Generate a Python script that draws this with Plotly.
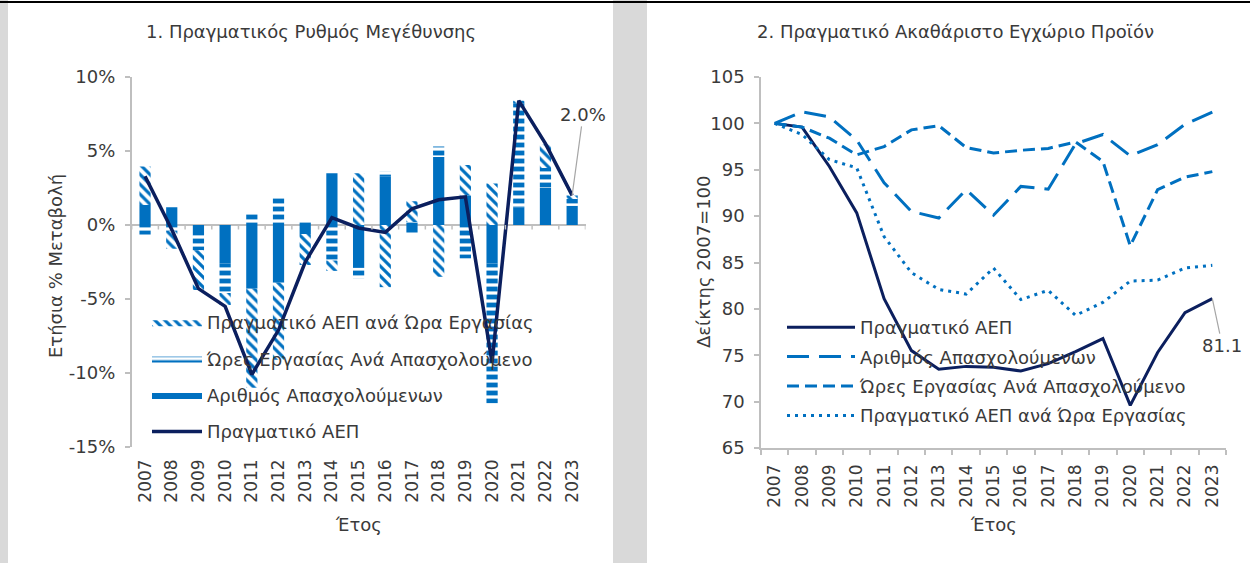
import plotly.graph_objects as go

# ---- data ----
years = list(range(2007, 2024))
year_labels = [str(y) for y in years]

# left panel: contributions to annual real GDP growth (%)
emp_contrib = [1.35, 1.2, -0.7, -2.6, -4.3, -3.9, -0.6, 3.5, -2.9, 3.3, -0.5, 4.6, 2.0, -2.6, 1.2, 2.5, 1.3]
hours_contrib = [-0.65, -0.4, -1.0, -2.0, 0.8, 1.9, 0.2, -2.4, -0.7, 0.3, 0.2, 0.7, -2.25, -9.45, 7.0, 1.35, 0.45]
gdp_hour_contrib = [2.6, -1.2, -2.7, -0.8, -6.7, -5.2, -2.1, -0.7, 3.5, -4.2, 1.4, -3.5, 2.05, 2.8, 0.2, 1.6, 0.25]
gdp_growth = [3.3, -0.3, -4.3, -5.5, -10.1, -7.1, -2.5, 0.5, -0.2, -0.5, 1.1, 1.7, 1.9, -9.3, 8.4, 5.5, 2.0]

# right panel: indices 2007=100
gdp_idx = [100, 99.6, 95.35, 90.35, 81.1, 75.5, 73.5, 73.8, 73.7, 73.3, 74.1, 75.4, 76.8, 69.6, 75.3, 79.6, 81.1]
emp_idx = [100, 101.25, 100.7, 98.2, 93.6, 90.5, 89.8, 92.85, 90.1, 93.2, 92.9, 97.8, 98.8, 96.5, 97.7, 99.9, 101.2]
hours_idx = [100, 99.6, 98.4, 96.6, 97.5, 99.3, 99.75, 97.4, 96.8, 97.1, 97.3, 98.0, 95.9, 86.8, 92.85, 94.2, 94.8]
gdp_hour_idx = [100, 98.8, 96.1, 95.2, 87.8, 83.9, 82.1, 81.6, 84.4, 81.0, 82.0, 79.3, 80.7, 83.0, 83.1, 84.4, 84.7]

left_yticks = [-15, -10, -5, 0, 5, 10]
left_yticktext = ["-15%", "-10%", "-5%", "0%", "5%", "10%"]

NAMES = {
    'gdp': 'Πραγματικό ΑΕΠ',
    'emp': 'Αριθμός Απασχολούμενων',
    'hours': 'Ώρες Εργασίας Ανά Απασχολούμενο',
    'gdp_hour': 'Πραγματικό ΑΕΠ ανά Ώρα Εργασίας',
}

COLORS = {
    'blue': '#0070C0',
    'navy': '#0B1F5E',
    'axis': '#BFBFBF',
    'text': '#3A3A3A',
    'frame': '#D9D9D9',
}

FONT = "DejaVu Sans"
FS = 18
W, H = 1250, 563

HOURS_PATTERN = dict(shape='-', fgcolor=COLORS['blue'], bgcolor='white', size=8, solidity=0.6)
DIAG_PATTERN = dict(shape='\\', fgcolor=COLORS['blue'], bgcolor='white', size=7, solidity=0.45)


def px_x(x):
    return x / W


def px_y(y):
    return 1 - y / H


fig = go.Figure()

# ---- left panel: stacked contributions + GDP line ----
fig.add_trace(go.Bar(
    x=years, y=emp_contrib, name=NAMES['emp'], showlegend=False,
    marker=dict(color=COLORS['blue'], line=dict(width=0)),
    xaxis='x', yaxis='y',
))
fig.add_trace(go.Bar(
    x=years, y=hours_contrib, name=NAMES['hours'], showlegend=False,
    marker=dict(color='white', line=dict(width=0), pattern=HOURS_PATTERN),
    xaxis='x', yaxis='y',
))
fig.add_trace(go.Bar(
    x=years, y=gdp_hour_contrib, name=NAMES['gdp_hour'], showlegend=False,
    marker=dict(color='white', line=dict(width=0), pattern=DIAG_PATTERN),
    xaxis='x', yaxis='y',
))
fig.add_trace(go.Scatter(
    x=years, y=gdp_growth, name=NAMES['gdp'], mode='lines',
    line=dict(color=COLORS['navy'], width=3.5),
    xaxis='x', yaxis='y', legend='legend', legendgroup='l', legendrank=4,
))

# legend entries for the bars (wide swatches like the original)
fig.add_trace(go.Scatter(
    x=[None], y=[None], name=NAMES['gdp_hour'], mode='lines', fill='toself',
    fillcolor='white', fillpattern=DIAG_PATTERN, line=dict(width=0, color=COLORS['blue']),
    xaxis='x', yaxis='y', legend='legend', legendgroup='g', legendrank=1,
))
fig.add_trace(go.Scatter(
    x=[None], y=[None], name=NAMES['hours'], mode='lines', fill='toself',
    fillcolor='white', fillpattern=HOURS_PATTERN, line=dict(width=0, color=COLORS['blue']),
    xaxis='x', yaxis='y', legend='legend', legendgroup='h', legendrank=2,
))
fig.add_trace(go.Scatter(
    x=[None], y=[None], name=NAMES['emp'], mode='lines', fill='toself',
    fillcolor=COLORS['blue'], line=dict(width=0, color=COLORS['blue']),
    xaxis='x', yaxis='y', legend='legend', legendgroup='e', legendrank=3,
))

# ---- right panel: indices ----
fig.add_trace(go.Scatter(
    x=years, y=gdp_idx, name=NAMES['gdp'], mode='lines',
    line=dict(color=COLORS['navy'], width=3),
    xaxis='x2', yaxis='y2', legend='legend2', legendgroup='a', legendrank=1,
))
fig.add_trace(go.Scatter(
    x=years, y=emp_idx, name=NAMES['emp'], mode='lines',
    line=dict(color=COLORS['blue'], width=3, dash='22px,10px'),
    xaxis='x2', yaxis='y2', legend='legend2', legendgroup='b', legendrank=2,
))
fig.add_trace(go.Scatter(
    x=years, y=hours_idx, name=NAMES['hours'], mode='lines',
    line=dict(color=COLORS['blue'], width=3, dash='12px,6px'),
    xaxis='x2', yaxis='y2', legend='legend2', legendgroup='c', legendrank=3,
))
fig.add_trace(go.Scatter(
    x=years, y=gdp_hour_idx, name=NAMES['gdp_hour'], mode='lines',
    line=dict(color=COLORS['blue'], width=3, dash='3px,5px'),
    xaxis='x2', yaxis='y2', legend='legend2', legendgroup='d', legendrank=4,
))

tick_font = dict(family=FONT, size=17, color=COLORS['text'])
x_range = [years[0] - 0.5, years[-1] + 0.5]
boundaries = [y - 0.5 for y in years] + [years[-1] + 0.5]

fig.update_layout(
    template='none',
    width=W, height=H,
    margin=dict(l=0, r=0, t=0, b=0, pad=0),
    paper_bgcolor='white', plot_bgcolor='white',
    font=dict(family=FONT, size=FS, color=COLORS['text']),
    barmode='relative', bargap=0.58,
    xaxis=dict(
        domain=[px_x(131.7), px_x(585.5)], anchor='y', range=x_range, automargin=False,
        tickvals=years, ticktext=year_labels,
        showline=False, showgrid=False, zeroline=False, ticks='', tickangle=-90,
        tickfont=tick_font, ticklabelstandoff=8,
    ),
    yaxis=dict(
        domain=[px_y(447), px_y(77)], anchor='x', range=[-15, 10], automargin=False,
        tickvals=left_yticks, ticktext=left_yticktext,
        showline=True, linecolor=COLORS['axis'], linewidth=1.5,
        ticks='outside', ticklen=5, tickcolor=COLORS['axis'], tickwidth=1.5,
        showgrid=False, zeroline=True, zerolinecolor=COLORS['axis'], zerolinewidth=2,
        tickfont=dict(tick_font, size=FS), ticklabelstandoff=6,
    ),
    xaxis2=dict(
        domain=[px_x(761), px_x(1226)], anchor='y2', range=x_range, automargin=False,
        tickvals=years, ticktext=year_labels,
        showline=True, linecolor=COLORS['axis'], linewidth=1.5,
        ticks='', showgrid=False, zeroline=False, tickangle=-90,
        minor=dict(tickmode='array', tickvals=boundaries, ticks='outside', ticklen=5,
                   tickcolor=COLORS['axis'], tickwidth=1.5, showgrid=False),
        tickfont=tick_font, ticklabelstandoff=8,
    ),
    yaxis2=dict(
        domain=[px_y(448), px_y(77)], anchor='x2', range=[65, 105], dtick=5, automargin=False,
        showline=True, linecolor=COLORS['axis'], linewidth=1.5,
        ticks='outside', ticklen=5, tickcolor=COLORS['axis'], tickwidth=1.5,
        showgrid=False, zeroline=False, tickfont=dict(tick_font, size=FS), ticklabelstandoff=6,
    ),
    legend=dict(
        x=px_x(147), y=px_y(304), xanchor='left', yanchor='top',
        bgcolor='rgba(0,0,0,0)', traceorder='grouped', tracegroupgap=10,
        itemwidth=50, font=dict(family=FONT, size=FS, color=COLORS['text']),
    ),
    legend2=dict(
        x=px_x(782), y=px_y(309), xanchor='left', yanchor='top',
        bgcolor='rgba(0,0,0,0)', traceorder='grouped', tracegroupgap=3,
        itemwidth=68, font=dict(family=FONT, size=FS, color=COLORS['text']),
    ),
    showlegend=True,
)

# small tick marks on the zero line of the left panel (category boundaries)
for b in boundaries:
    fig.add_shape(type='line', xref='x', yref='y', x0=b, x1=b, y0=0, y1=-0.3,
                  line=dict(color=COLORS['axis'], width=1.5))

# grey frame strips and top rule
fig.add_shape(type='rect', xref='paper', yref='paper', x0=0, x1=px_x(8), y0=0, y1=1,
              fillcolor=COLORS['frame'], line=dict(width=0), layer='below')
fig.add_shape(type='rect', xref='paper', yref='paper', x0=px_x(613), x1=px_x(647), y0=0, y1=1,
              fillcolor=COLORS['frame'], line=dict(width=0), layer='below')
fig.add_shape(type='line', xref='paper', yref='paper', x0=0, x1=1, y0=px_y(2), y1=px_y(2),
              line=dict(color='black', width=2))


def label(text, x, y, angle=0):
    fig.add_annotation(text=text, xref='paper', yref='paper', x=px_x(x), y=px_y(y),
                       xanchor='center', yanchor='middle', textangle=angle,
                       showarrow=False, font=dict(size=FS))


# titles
label('1. Πραγματικός Ρυθμός Μεγέθυνσης', 311, 32)
label('2. Πραγματικό Ακαθάριστο Εγχώριο Προϊόν', 955, 32)
# axis titles
label('Ετήσια % Μεταβολή', 55, 266, -90)
label('Δείκτης 2007=100', 703, 262, -90)
label('Έτος', 358, 524)
label('Έτος', 993, 524)

# end-point labels
fig.add_annotation(text=f"{gdp_growth[-1]:.1f}%", xref='x', yref='y',
                   x=years[-1], y=gdp_growth[-1], ax=11, ay=-81,
                   xanchor='center', yanchor='middle',
                   showarrow=True, arrowhead=0, arrowwidth=1.2, arrowcolor='#A6A6A6',
                   font=dict(size=FS))
fig.add_annotation(text=f"{gdp_idx[-1]:.1f}", xref='x2', yref='y2',
                   x=years[-1], y=gdp_idx[-1], ax=10, ay=47,
                   xanchor='center', yanchor='middle',
                   showarrow=True, arrowhead=0, arrowwidth=1.2, arrowcolor='#A6A6A6',
                   font=dict(size=FS))

fig.write_html("out.html", config={'displayModeBar': False},
               post_script="document.body.style.margin='0';")
